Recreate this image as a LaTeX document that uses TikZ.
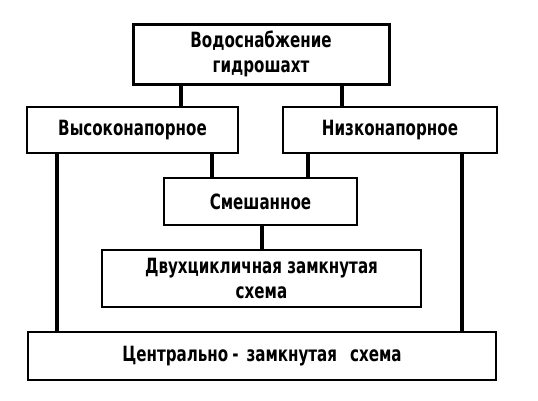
\documentclass[tikz,border=0pt]{standalone}
\usepackage{fontspec}
\setmainfont{DejaVu Sans Condensed}[BoldFont={DejaVu Sans Condensed Bold}, FakeStretch=0.8]
\tikzset{
  block/.style={rectangle, draw=black, line width=2pt, fill=white, text centered, align=center, font=\fontsize{21}{25}\selectfont\bfseries, inner sep=0pt},
  link/.style={line width=3.5pt}
}
\begin{document}
\begin{tikzpicture}[x=1pt, y=-1pt]
        \useasboundingbox (0,0) rectangle (538,400);
        % connectors first, boxes on top
        \coordinate (lh) at (181,0);
        \coordinate (ll) at (342,0);
        \coordinate (lm1) at (212,0);
        \coordinate (lm2) at (308,0);
        \coordinate (ld) at (262,0);
        \coordinate (lc1) at (57,0);
        \coordinate (lc2) at (462,0);
        \node at (261, 54) (top)[block, line width=3pt, minimum width=256pt, minimum height=60pt] {Водоснабжение\\гидрошахт};
        \node at (132.5, 130) (high)[block, minimum width=211pt, minimum height=46pt] {Высоконапорное};
        \node at (390, 130) (low)[block, minimum width=214pt, minimum height=46pt] {Низконапорное};
        \node at (260.5, 201.5) (mixed)[block, minimum width=193pt, minimum height=47pt] {Смешанное};
        \node at (261.5, 278.5) (dual)[block, minimum width=319pt, minimum height=57pt] {Двухцикличная замкнутая\\схема};
        \node at (262, 356) (central)[block, minimum width=468pt, minimum height=48pt] {Центрально\hspace{4pt}-\hspace{8pt}замкнутая\hspace{13pt}схема};
        \draw [link] (lh |- top.south) -- (lh |- high.north);
        \draw [link] (ll |- top.south) -- (ll |- low.north);
        \draw [link] (lm1 |- high.south) -- (lm1 |- mixed.north);
        \draw [link] (lm2 |- low.south) -- (lm2 |- mixed.north);
        \draw [link] (ld |- mixed.south) -- (ld |- dual.north);
        \draw [link] (lc1 |- high.south) -- (lc1 |- central.north);
        \draw [link] (lc2 |- low.south) -- (lc2 |- central.north);
\end{tikzpicture}
\end{document}
